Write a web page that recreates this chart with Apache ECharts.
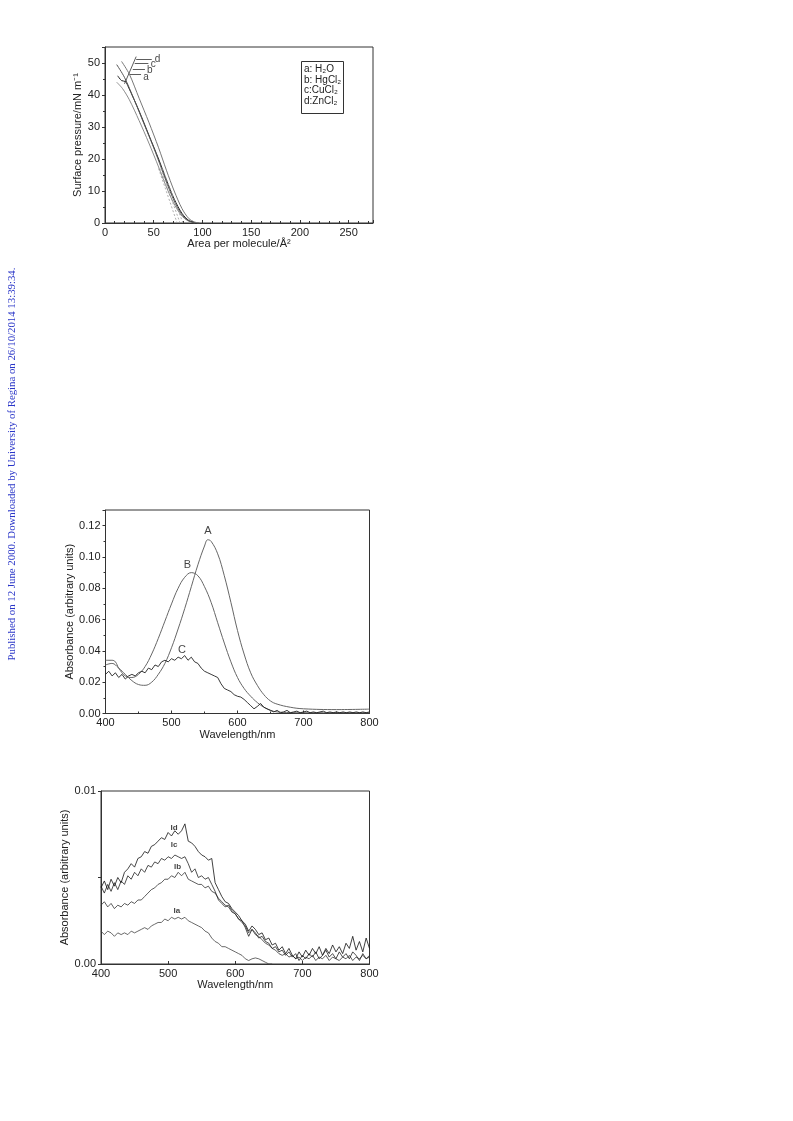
<!DOCTYPE html>
<html><head><meta charset="utf-8">
<script src="https://cdn.jsdelivr.net/npm/echarts@6/dist/echarts.min.js"></script>
<style>html,body{margin:0;padding:0;background:#fff}#c{width:793px;height:1121px}</style>
</head><body><div id="c"></div><script>
// ---------- Chart 1: isotherms (area per molecule, surface pressure) ----------
const isoA = [[12,44],[18,42],[25,38.5],[35,32],[45,25],[55,17.5],[62,12],[70,6.5],[78,2.5],[85,0.7],[92,0]];
const isoB = [[13,46],[17,44.5],[21,44.2],[24,42.5],[35,35],[45,27.5],[55,20],[63,13.5],[71,7.5],[79,3],[86,0.8],[94,0]];
const isoC = [[12,49.5],[20,45.5],[30,38.5],[40,31],[50,23.5],[58,17],[66,10.5],[74,5],[82,1.5],[89,0.3],[96,0]];
const isoD = [[17,50.5],[25,46.5],[35,39],[45,31.5],[55,23.5],[63,16.5],[71,10],[79,4.5],[86,1.4],[92,0.3],[97,0]];
const extrap1 = [[55,17],[74,0]];
const extrap2 = [[57,17],[77,0]];
const extrap3 = [[59,17],[80,0]];
const arrowLabels = ['a','b','c','d'];
const arrowY = [46.4, 48.2, 49.8, 51.3];
const arrowX0 = [25.5, 28.5, 30.5, 32];
const arrowX1 = [37, 41, 44.5, 48];
const arrowLabelPos = [[42,45.6],[46,47.7],[49.5,49.6],[54,51.1]];
const connector = [[32,52],[20,43.5]];
const legendLines = ['a: H₂O','b: HgCl₂','c:CuCl₂','d:ZnCl₂'];

// ---------- Chart 2: absorbance spectra A, B, C ----------
const wl10 = [400,410,420,430,440,450,460,470,480,490,500,510,520,530,540,550,555,560,570,580,590,600,610,620,630,640,650,660,680,700,750,800];
const specA = [0.031,0.032,0.029,0.025,0.021,0.0185,0.018,0.020,0.025,0.032,0.042,0.054,0.067,0.081,0.095,0.107,0.111,0.110,0.102,0.088,0.071,0.053,0.038,0.026,0.018,0.012,0.008,0.006,0.004,0.003,0.0025,0.0028];
const wlB = [400,410,415,420,430,440,450,460,470,480,490,500,510,520,530,540,550,560,570,580,590,600,610,620,630,640,650,660,680,700,750,800];
const specB = [0.034,0.034,0.033,0.029,0.024,0.023,0.025,0.030,0.038,0.048,0.059,0.070,0.080,0.087,0.090,0.088,0.081,0.071,0.058,0.045,0.033,0.023,0.016,0.011,0.007,0.004,0.002,0.001,0.0006,0.0005,0.0005,0.0005];
const wl5 = [400,405,410,415,420,425,430,435,440,445,450,455,460,465,470,475,480,485,490,495,500,505,510,515,520,525,530,535,540,545,550,555,560,565,570,575,580,585,590,595,600,605,610,615,620,625,630,635,640,645,650,655,660,665,670,675,680,685,690,695,700,705,710,715,720,725,730,735,740,745,750,755,760,765,770,775,780,785,790,795,800];
const specC = [0.025,0.027,0.024,0.026,0.023,0.025,0.022,0.024,0.025,0.024,0.026,0.027,0.026,0.029,0.028,0.031,0.030,0.033,0.034,0.033,0.035,0.034,0.036,0.035,0.037,0.034,0.036,0.033,0.032,0.029,0.027,0.026,0.025,0.024,0.023,0.019,0.016,0.015,0.014,0.012,0.011,0.0105,0.009,0.007,0.005,0.003,0.0045,0.0064,0.004,0.003,0.002,0.001,0.002,0.0005,0.001,0.002,0.0005,0.001,0.0015,0.0005,0.001,0.0015,0.0005,0.001,0.0005,0.001,0.0015,0.0005,0.001,0.0005,0.001,0.0005,0.001,0.0005,0.001,0.0005,0.001,0.0005,0.001,0.0005,0.001];
const specLabels = [['A',555,0.1165],['B',524,0.095],['C',516,0.0405]];

// ---------- Chart 3: absorbance spectra Ia..Id ----------
const wl3 = wl5;
const specIa = [0.0019,0.0017,0.0019,0.0018,0.0016,0.0018,0.0017,0.0018,0.0017,0.0019,0.0018,0.0019,0.0020,0.0021,0.0020,0.0022,0.0023,0.0024,0.0024,0.0026,0.0025,0.0027,0.0026,0.0027,0.0026,0.0027,0.0025,0.0024,0.0023,0.0022,0.0021,0.0019,0.0018,0.0015,0.0013,0.0012,0.0010,0.0010,0.0009,0.0008,0.0007,0.0006,0.0005,0.0003,0.0002,0.0003,0.00035,0.0003,0.0002,0.0001,0.0,0.0];
const specIb = [0.0034,0.0036,0.0033,0.0035,0.0032,0.0034,0.0033,0.0035,0.0034,0.0036,0.0035,0.0037,0.0037,0.0039,0.0041,0.0043,0.0044,0.0046,0.0047,0.0049,0.0049,0.0051,0.0050,0.0053,0.0051,0.0053,0.0049,0.0048,0.0047,0.0046,0.0046,0.0044,0.0045,0.0042,0.0041,0.0038,0.0036,0.0034,0.0033,0.0030,0.0029,0.0026,0.0024,0.0022,0.0018,0.0020,0.0017,0.0016,0.0014,0.0012,0.0011,0.0009,0.0008,0.0006,0.0005,0.0006,0.0004,0.0005,0.0003,0.0004,0.0002,0.0004,0.0003,0.0005,0.0002,0.0004,0.0003,0.0005,0.0002,0.0004,0.0003,0.0002,0.0004,0.0003,0.0005,0.0002,0.0004,0.0003,0.0005,0.0003,0.0004];
const specIc = [0.0045,0.0041,0.0046,0.0042,0.0047,0.0043,0.0048,0.0046,0.0051,0.0049,0.0053,0.0051,0.0055,0.0053,0.0057,0.0056,0.0059,0.0058,0.0061,0.0060,0.0062,0.0061,0.0063,0.0062,0.0061,0.0062,0.0058,0.0053,0.0055,0.0050,0.0051,0.0049,0.0050,0.0046,0.0042,0.0037,0.0035,0.0033,0.0034,0.0031,0.0029,0.0026,0.0025,0.0021,0.0016,0.0020,0.0018,0.0015,0.0016,0.0013,0.0012,0.0009,0.0010,0.0007,0.0008,0.0005,0.0007,0.0004,0.0006,0.0002,0.0005,0.0003,0.0006,0.0004,0.0007,0.0003,0.0005,0.0008,0.0004,0.0006,0.0003,0.0007,0.0004,0.0006,0.0003,0.0007,0.0005,0.0002,0.0006,0.0003,0.0005];
const specId = [0.0044,0.0048,0.0043,0.0049,0.0045,0.0050,0.0047,0.0053,0.0055,0.0058,0.0056,0.0061,0.0062,0.0065,0.0064,0.0068,0.0069,0.0071,0.0073,0.0072,0.0076,0.0074,0.0077,0.0075,0.0077,0.0081,0.0071,0.0070,0.0068,0.0065,0.0063,0.0062,0.0060,0.0061,0.0047,0.0043,0.0039,0.0036,0.0035,0.0032,0.0030,0.0028,0.0025,0.0023,0.0019,0.0022,0.0020,0.0017,0.0018,0.0014,0.0015,0.0011,0.0012,0.0008,0.0010,0.0006,0.0009,0.0005,0.0003,0.0007,0.0004,0.0008,0.0005,0.0009,0.0006,0.0010,0.0005,0.0009,0.0006,0.0011,0.0007,0.0010,0.0006,0.0012,0.0009,0.0016,0.0008,0.0013,0.0007,0.0015,0.0009];
const spec3Labels = [['Id',509,0.0079],['Ic',509,0.0069],['Ib',514,0.0056],['Ia',513,0.0031]];

const sideText = 'Published on 12 June 2000. Downloaded by University of Regina on 26/10/2014 13:39:34.';

// ---------- helpers ----------
const FONT = 'Liberation Sans, Arial, sans-serif';
const zip = (xs, ys) => ys.map((y, i) => [xs[i], y]);
function xAx(gi, min, max, interval, name, gap, minorSplit, showMax) {
  return {
    type: 'value', gridIndex: gi, min, max, interval,
    name, nameLocation: 'middle', nameGap: gap,
    nameTextStyle: { fontFamily: FONT, fontSize: 11, color: '#222' },
    axisLine: { show: true, onZero: false, lineStyle: { color: '#333', width: 1 } },
    axisTick: { show: true, inside: true, length: 3, lineStyle: { color: '#333' } },
    minorTick: { show: !!minorSplit, splitNumber: minorSplit || 2, length: 2, lineStyle: { color: '#333' } },
    splitLine: { show: false }, minorSplitLine: { show: false },
    axisLabel: { fontFamily: FONT, fontSize: 11, color: '#222', margin: 4, showMaxLabel: showMax }
  };
}
function yAx(gi, min, max, interval, name, gap, minorSplit, fmt, showMax) {
  return {
    type: 'value', gridIndex: gi, min, max, interval,
    name, nameLocation: 'middle', nameGap: gap,
    nameTextStyle: { fontFamily: FONT, fontSize: 11, color: '#222' },
    axisLine: { show: true, onZero: false, lineStyle: { color: '#333', width: 1 } },
    axisTick: { show: true, inside: false, length: 3, lineStyle: { color: '#333' } },
    minorTick: { show: !!minorSplit, splitNumber: minorSplit || 2, length: 2, lineStyle: { color: '#333' } },
    splitLine: { show: false }, minorSplitLine: { show: false },
    axisLabel: { fontFamily: FONT, fontSize: 11, color: '#222', margin: 5, showMaxLabel: showMax, formatter: fmt }
  };
}
function line(gi, data, color, width, extra) {
  return Object.assign({
    type: 'line', xAxisIndex: gi, yAxisIndex: gi, data, showSymbol: false, symbol: 'none',
    lineStyle: { color, width }, silent: true, animation: false, z: 3
  }, extra || {});
}
function labels(gi, items, fontSize, bold) {
  return {
    type: 'scatter', xAxisIndex: gi, yAxisIndex: gi, symbolSize: 0, silent: true, animation: false,
    data: items.map(d => ({ value: [d[1], d[2]], name: d[0] })),
    label: { show: true, position: 'inside', formatter: p => p.name, fontFamily: FONT, fontSize, fontWeight: bold ? 'bold' : 'normal', color: '#111' }
  };
}

const chart = echarts.init(document.getElementById('c'), null, { renderer: 'canvas' });
const series = [
  line(0, isoA, '#8a8a8a', 1, { smooth: 0.3 }),
  line(0, isoB, '#222', 1, { smooth: 0.3 }),
  line(0, isoC, '#555', 1, { smooth: 0.3 }),
  line(0, isoD, '#777', 1, { smooth: 0.3 }),
  line(0, extrap1, '#999', 0.8, { lineStyle: { color: '#999', width: 0.8, type: [2, 2] } }),
  line(0, extrap2, '#999', 0.8, { lineStyle: { color: '#999', width: 0.8, type: [2, 2] } }),
  line(0, extrap3, '#999', 0.8, { lineStyle: { color: '#999', width: 0.8, type: [2, 2] } }),
  line(0, connector, '#333', 0.8, {
    markLine: {
      silent: true, animation: false, symbol: ['none', 'arrow'], symbolSize: [0, 5],
      lineStyle: { color: '#333', width: 0.8, type: 'solid' }, label: { show: false },
      data: arrowY.map((y, i) => [{ coord: [arrowX0[i], y] }, { coord: [arrowX1[i], y] }])
    }
  }),
  labels(0, arrowLabels.map((l, i) => [l, arrowLabelPos[i][0], arrowLabelPos[i][1]]), 10, false),

  line(1, zip(wl10, specA), '#666', 1, { smooth: 0.4 }),
  line(1, zip(wlB, specB), '#666', 1, { smooth: 0.4 }),
  line(1, zip(wl5, specC), '#222', 0.9),
  labels(1, specLabels, 11, false),

  line(2, zip(wl3, specIa), '#444', 0.8),
  line(2, zip(wl3, specIb), '#333', 0.8),
  line(2, zip(wl3, specIc), '#222', 0.8),
  line(2, zip(wl3, specId), '#111', 0.8),
  labels(2, spec3Labels, 8, true)
];

chart.setOption({
  animation: false,
  backgroundColor: '#fff',
  grid: [
    { left: 105, top: 47, width: 268, height: 176, show: true, borderColor: '#333', borderWidth: 1, outerBoundsMode: 'none' },
    { left: 105.5, top: 510, width: 264, height: 203.5, show: true, borderColor: '#333', borderWidth: 1, outerBoundsMode: 'none' },
    { left: 101, top: 791, width: 268.5, height: 173, show: true, borderColor: '#333', borderWidth: 1, outerBoundsMode: 'none' }
  ],
  xAxis: [
    xAx(0, 0, 275, 50, 'Area per molecule/Å²', 13, 5, false),
    xAx(1, 400, 800, 100, 'Wavelength/nm', 16, 2, true),
    xAx(2, 400, 800, 100, 'Wavelength/nm', 14, 0, true)
  ],
  yAxis: [
    yAx(0, 0, 55, 10, 'Surface pressure/mN m⁻¹', 20, 2, undefined, false),
    yAx(1, 0, 0.13, 0.02, 'Absorbance (arbitrary units)', 26, 2, v => v.toFixed(2), false),
    yAx(2, 0, 0.01, 0.005, 'Absorbance (arbitrary units)', 21, 0, v => (Math.abs(v - 0.005) < 1e-9 ? '' : v.toFixed(2)), true)
  ],
  series,
  graphic: [
    { type: 'rect', left: 301, top: 61, shape: { width: 42, height: 52 }, style: { fill: '#fff', stroke: '#333', lineWidth: 1 }, z: 10 },
    { type: 'text', left: 304, top: 64, z: 11, style: { text: legendLines.join('\n'), fontFamily: FONT, fontSize: 10, lineHeight: 10.5, fill: '#222' } },
    { type: 'text', x: 12, y: 464, rotation: Math.PI / 2, z: 11,
      style: { text: sideText, fontFamily: 'Liberation Serif, Times New Roman, serif', fontSize: 10.8, fill: '#2a36c8', align: 'center', verticalAlign: 'middle' } }
  ]
});
</script></body></html>
